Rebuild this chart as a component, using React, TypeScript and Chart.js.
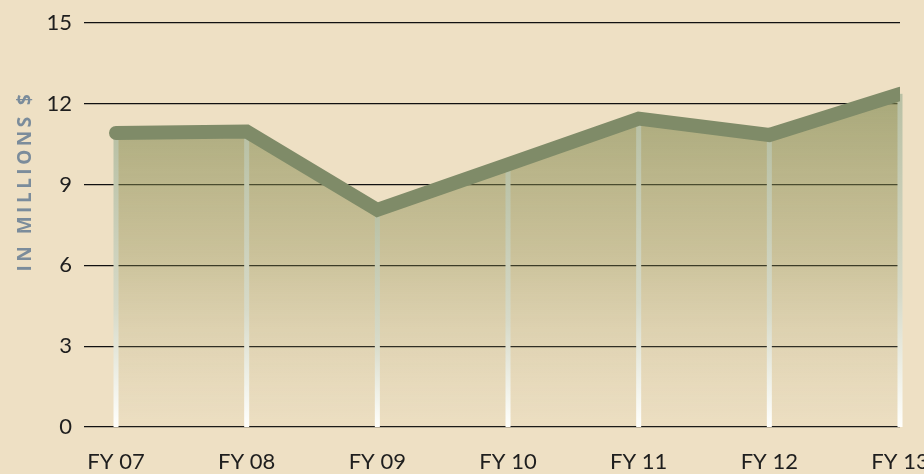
import React, { useEffect, useRef } from "react";
import { Chart, registerables } from "chart.js";

Chart.register(...registerables);

const categories = ["FY 07", "FY 08", "FY 09", "FY 10", "FY 11", "FY 12", "FY 13"];
const values = [10.92, 10.97, 8.06, 9.75, 11.45, 10.84, 12.37];
const yTicks = [0, 3, 6, 9, 12, 15];
const yTitle = "IN MILLIONS $";

const FONT = "Lato, 'Open Sans', sans-serif";

export default function App() {
  const ref = useRef<HTMLCanvasElement | null>(null);

  useEffect(() => {
    if (!ref.current) return;

    const dropLines = {
      id: "dropLines",
      beforeDatasetDraw(chart: any) {
        const ctx = chart.ctx;
        const xs = chart.scales.x;
        const ys = chart.scales.y;
        const base = ys.getPixelForValue(0);
        ctx.save();
        values.forEach((v, i) => {
          const x = xs.getPixelForValue(i);
          const top = ys.getPixelForValue(v);
          const g = ctx.createLinearGradient(0, top, 0, base);
          g.addColorStop(0, "rgba(184,192,164,1)");
          g.addColorStop(0.6, "rgba(215,218,200,1)");
          g.addColorStop(1, "rgba(255,255,252,1)");
          ctx.fillStyle = g;
          ctx.fillRect(x - 2.5, top, 5, base - top);
        });
        ctx.restore();
      },
    };

    const titlePlugin = {
      id: "yTitle",
      afterDraw(chart: any) {
        const ctx = chart.ctx;
        ctx.save();
        ctx.translate(26, 183);
        ctx.rotate(-Math.PI / 2);
        ctx.font = `bold 19px 'Open Sans', sans-serif`;
        (ctx as any).letterSpacing = "3.5px";
        ctx.fillStyle = "#7b8c9b";
        ctx.textAlign = "center";
        ctx.textBaseline = "middle";
        ctx.fillText(yTitle, 2, 0);
        ctx.restore();
      },
    };

    const chart = new Chart(ref.current, {
      type: "line",
      data: {
        datasets: [
          {
            data: values.map((v, i) => ({ x: i, y: v })),
            borderColor: "#7f8b68",
            borderWidth: 14,
            borderCapStyle: "round",
            borderJoinStyle: "miter",
            tension: 0,
            pointRadius: 0,
            fill: "origin",
            backgroundColor: (c: any) => {
              const area = c.chart.chartArea;
              if (!area) return "rgba(130,138,84,0.6)";
              const ys = c.chart.scales.y;
              const top = ys.getPixelForValue(Math.max(...values));
              const g = c.chart.ctx.createLinearGradient(0, top, 0, area.bottom);
              g.addColorStop(0, "rgba(128,136,80,0.64)");
              g.addColorStop(0.5, "rgba(140,140,80,0.35)");
              g.addColorStop(1, "rgba(200,190,150,0.05)");
              return g;
            },
          },
        ],
      },
      options: {
        animation: false,
        responsive: false,
        maintainAspectRatio: false,
        layout: { padding: { top: 23, right: 24, left: 0, bottom: 0 } },
        plugins: {
          legend: { display: false },
          tooltip: { enabled: false },
        },
        scales: {
          x: {
            type: "linear",
            min: -0.245,
            max: 6,
            grid: { display: false },
            border: { display: false },
            afterBuildTicks: (s: any) => {
              s.ticks = categories.map((_, i) => ({ value: i }));
            },
            afterFit: (s: any) => {
              s.height = 47;
              s.paddingLeft = 0;
              s.paddingRight = 0;
            },
            ticks: {
              autoSkip: false,
              maxRotation: 0,
              padding: 14,
              color: "#1e1e1e",
              font: { family: FONT, size: 22 },
              callback: (v: any) => categories[Math.round(v)] ?? "",
            },
          },
          y: {
            min: 0,
            max: 15,
            afterBuildTicks: (s: any) => {
              s.ticks = yTicks.map((v) => ({ value: v }));
            },
            afterFit: (s: any) => {
              s.width = 84;
              s.paddingTop = 0;
              s.paddingBottom = 0;
            },
            grid: { color: "#111111", lineWidth: 1.3, drawTicks: false },
            border: { display: false },
            ticks: {
              padding: 12,
              color: "#1e1e1e",
              font: { family: FONT, size: 22 },
            },
          },
        },
      },
      plugins: [dropLines, titlePlugin],
    } as any);

    return () => chart.destroy();
  }, []);

  return (
    <div
      style={{
        position: "fixed",
        left: 0,
        top: 0,
        width: 924,
        height: 474,
        background: "#eee0c4",
      }}
    >
      <canvas ref={ref} width={924} height={474} style={{ width: 924, height: 474 }} />
    </div>
  );
}
